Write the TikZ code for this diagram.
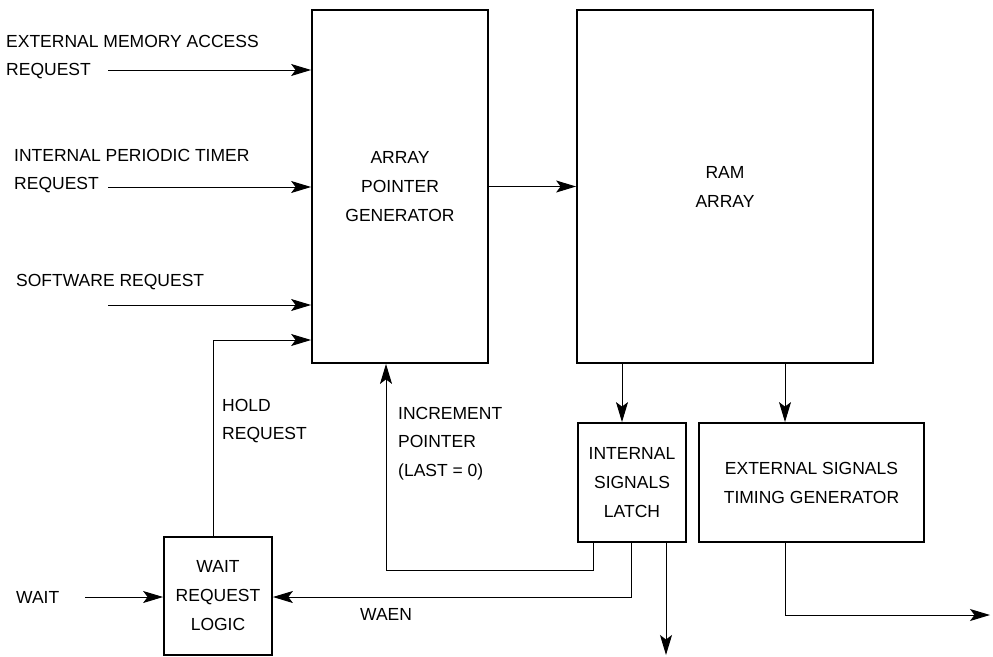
\documentclass[tikz,border=0pt]{standalone}
\usepackage{fontspec}
\setmainfont{Liberation Sans}
\usetikzlibrary{arrows.meta}
\begin{document}
\begin{tikzpicture}[x=1pt,y=-1pt,
  box/.style={draw, line width=1.8pt, inner sep=0pt, align=center,
    font=\fontsize{17.5}{29}\selectfont},
  lbl/.style={inner sep=0pt, align=left, anchor=west,
    font=\fontsize{17.5}{28}\selectfont},
  conn/.style={line width=1pt},
  arr/.style={conn, -{Stealth[length=20pt,width=12pt,inset=4.5pt]}}]
\useasboundingbox (0,0) rectangle (993,656);
% boxes
\node[box, minimum width=176pt, minimum height=353pt] (apg) at (400,186.5) {ARRAY\\POINTER\\GENERATOR};
\node[box, minimum width=296pt, minimum height=353pt] (ram) at (725,186.5) {RAM\\ARRAY};
\node[box, minimum width=108pt, minimum height=119pt] (latch) at (632,482.5) {INTERNAL\\SIGNALS\\LATCH};
\node[box, minimum width=225pt, minimum height=119pt] (ext) at (811.5,482.5) {EXTERNAL SIGNALS\\TIMING GENERATOR};
\node[box, minimum width=108pt, minimum height=118pt] (wrl) at (218,596) {WAIT\\REQUEST\\LOGIC};
% labels
\node[lbl] (l1) at (6,57) {EXTERNAL MEMORY ACCESS\\REQUEST};
\node[lbl] (l2) at (14,171.5) {INTERNAL PERIODIC TIMER\\REQUEST};
\node[lbl] (l3) at (16,282) {SOFTWARE REQUEST};
\node[lbl] (l4) at (222,421.5) {HOLD\\REQUEST};
\node[lbl, font=\fontsize{17.5}{28.5}\selectfont] (l5) at (398,443.5) {INCREMENT\\POINTER\\(LAST = 0)};
\node[lbl] (l6) at (16,597) {WAIT};
\node[lbl] (l7) at (360,614) {WAEN};
% free ends
\coordinate (in1) at (108,70);
\coordinate (in2) at (108,187);
\coordinate (in3) at (108,305);
\coordinate (hold) at (213,340);
\coordinate (incturn) at (386,570);
\coordinate (win) at (85,597);
\coordinate (out1) at (666,655);
\coordinate (out2) at (990,615);
% connectors
\draw[arr] (in1) -- (in1 -| apg.west);
\draw[arr] (in2) -- (in2 -| apg.west);
\draw[arr] (in3) -- (in3 -| apg.west);
\draw[arr] (hold |- wrl.north) -- (hold) -- (hold -| apg.west);
\draw[arr] (apg.east) -- (ram.west);
\draw[arr] ([xshift=-10pt]latch.north |- ram.south) -- ([xshift=-10pt]latch.north);
\draw[arr] ([xshift=-26.5pt]ext.north |- ram.south) -- ([xshift=-26.5pt]ext.north);
\draw[arr] ([xshift=-39pt]latch.south) |- (incturn) -- (incturn |- apg.south);
\draw[arr] ([xshift=-1pt]latch.south) |- (win -| wrl.east);
\draw[arr] ([xshift=34pt]latch.south) -- (out1);
\draw[arr] ([xshift=-26.5pt]ext.south) |- (out2);
\draw[arr] (win) -- (win -| wrl.west);
\end{tikzpicture}
\end{document}
